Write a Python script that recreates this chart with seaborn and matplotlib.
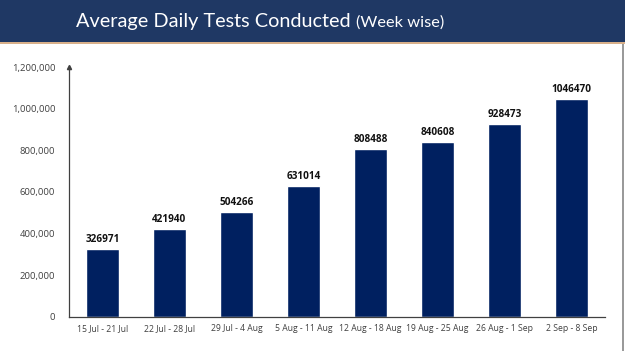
import matplotlib
matplotlib.use("Agg")
import matplotlib.pyplot as plt
import matplotlib.patches as mpatches
import numpy as np
import pandas as pd
import seaborn as sns

weeks = [
    "15 Jul - 21 Jul",
    "22 Jul - 28 Jul",
    "29 Jul - 4 Aug",
    "5 Aug - 11 Aug",
    "12 Aug - 18 Aug",
    "19 Aug - 25 Aug",
    "26 Aug - 1 Sep",
    "2 Sep - 8 Sep",
]
avg_tests = [326971, 421940, 504266, 631014, 808488, 840608, 928473, 1046470]
y_ticks = [0, 200000, 400000, 600000, 800000, 1000000, 1200000]

BAR_COLOR = "#002060"
HEADER_COLOR = "#1F3864"
AXIS_COLOR = "#404040"

df = pd.DataFrame({"week": weeks, "tests": avg_tests})

sns.set_theme(style="white")
plt.rcParams["font.family"] = ["Open Sans", "DejaVu Sans"]

fig = plt.figure(figsize=(6.25, 3.51), dpi=100)
fig.patch.set_facecolor("white")

# header band
fig.patches.append(mpatches.Rectangle((0, 1 - 42 / 351), 1, 42 / 351, transform=fig.transFigure,
                                      facecolor=HEADER_COLOR, edgecolor="none", zorder=0))
fig.patches.append(mpatches.Rectangle((0, 1 - 44 / 351), 1, 2 / 351, transform=fig.transFigure,
                                      facecolor="#D8B08A", edgecolor="none", zorder=0))
fig.patches.append(mpatches.Rectangle((622 / 625, 0), 1.5 / 625, 1 - 44 / 351, transform=fig.transFigure,
                                      facecolor="#9A9A9A", edgecolor="none", zorder=0))

fig.text(351 / 625, 1 - 22 / 351, "Average Daily Tests Conducted", color="white", fontsize=14.3,
         family=["Lato", "DejaVu Sans"], ha="right", va="center")
fig.text(356 / 625, 1 - 23 / 351, "(Week wise)", color="white", fontsize=11.8,
         family=["Lato", "DejaVu Sans"], ha="left", va="center")

ax = fig.add_axes([69 / 625, 34 / 351, 536 / 625, 250 / 351])
sns.barplot(data=df, x="week", y="tests", color=BAR_COLOR, width=0.5, saturation=1, ax=ax)

ax.set_ylim(0, 1200000)
ax.set_xlim(-0.5, len(weeks) - 0.5)
ax.set_yticks(y_ticks)
ax.set_yticklabels([f"{v:,}" for v in y_ticks], fontsize=6.8, color=AXIS_COLOR)
ax.set_xticks(range(len(weeks)))
ax.set_xticklabels(weeks, fontsize=6.2, color=AXIS_COLOR)
ax.set_xticks(np.arange(-0.5, len(weeks)), minor=True)
ax.tick_params(axis="x", which="major", length=0, pad=5)
ax.tick_params(axis="x", which="minor", length=3, color=AXIS_COLOR, width=0.8, direction="out")
ax.tick_params(axis="y", length=0, pad=10)
ax.set_xlabel("")
ax.set_ylabel("")

for side in ["top", "right"]:
    ax.spines[side].set_visible(False)
for side in ["left", "bottom"]:
    ax.spines[side].set_color(AXIS_COLOR)
    ax.spines[side].set_linewidth(0.9)

ax.plot(0, 1, marker="^", markersize=3, color=AXIS_COLOR, transform=ax.transAxes, clip_on=False)

for i, v in enumerate(avg_tests):
    ax.text(i, v + 18000, f"{v}", ha="center", va="bottom", fontsize=7.2, fontweight="bold", color="#111111")

fig.savefig("out.png", dpi=100)
